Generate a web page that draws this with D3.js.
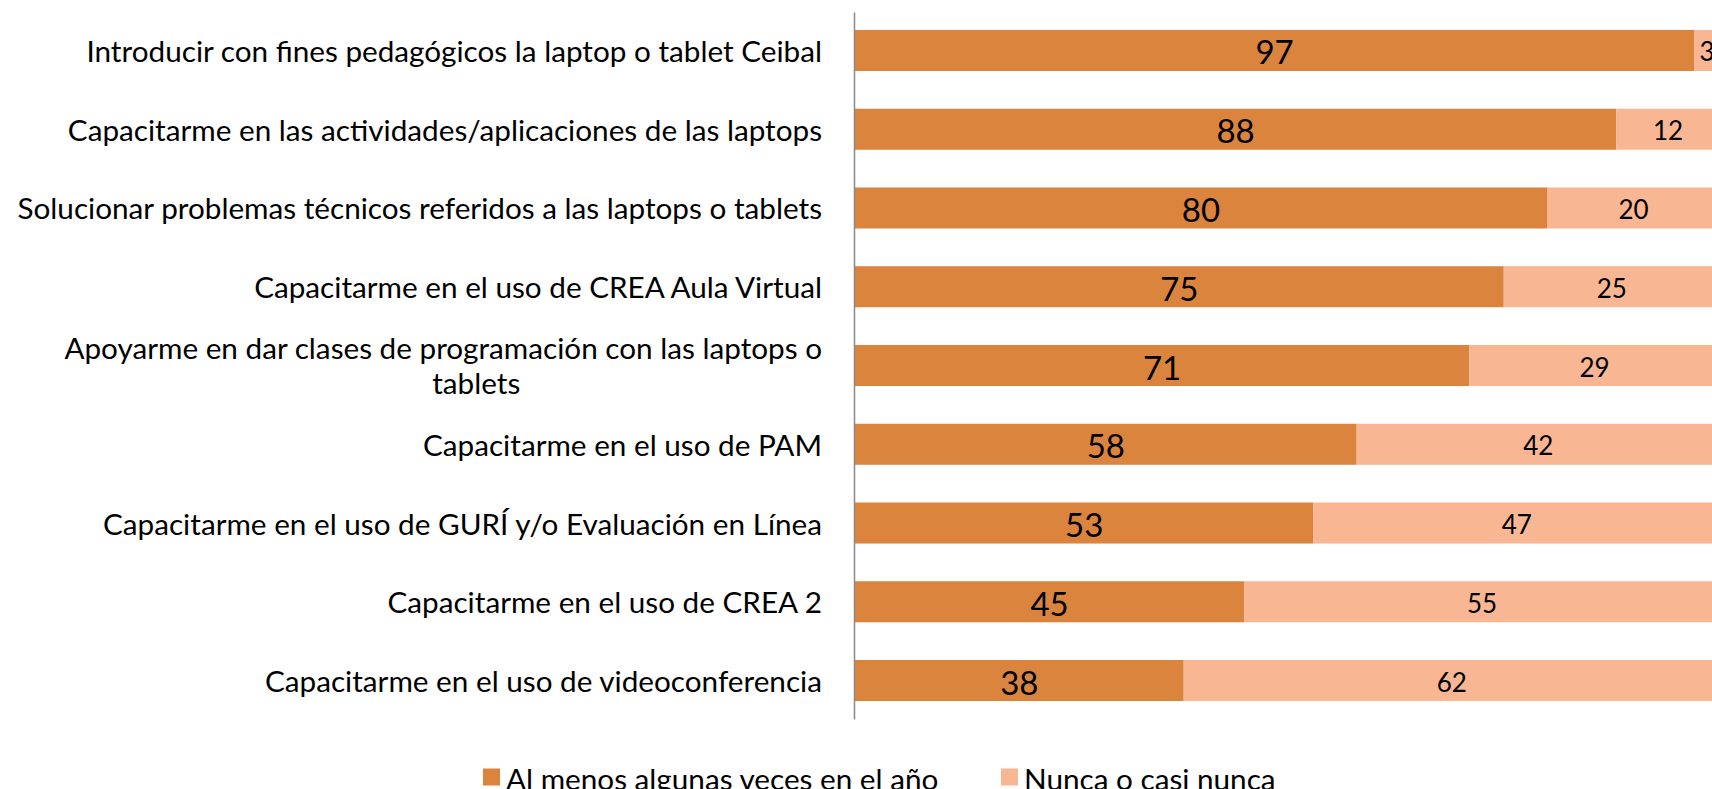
<!DOCTYPE html>
<html>
<head>
<meta charset="utf-8">
<script src="https://cdn.jsdelivr.net/npm/d3@7"></script>
<style>
  html, body { margin: 0; padding: 0; background: #fff; }
  svg { display: block; }
  text { font-family: "Lato", sans-serif; fill: #000; }
</style>
</head>
<body>
<svg id="chart" width="1712" height="789"></svg>
<script>
const categories = [
  ["Introducir con fines pedagógicos la laptop o tablet Ceibal"],
  ["Capacitarme en las actividades/aplicaciones de las laptops"],
  ["Solucionar problemas técnicos referidos a las laptops o tablets"],
  ["Capacitarme en el uso de CREA Aula Virtual"],
  ["Apoyarme en dar clases de programación con las laptops o", "tablets"],
  ["Capacitarme en el uso de PAM"],
  ["Capacitarme en el uso de GURÍ y/o Evaluación en Línea"],
  ["Capacitarme en el uso de CREA 2"],
  ["Capacitarme en el uso de videoconferencia"]
];
const alMenos = [97, 88, 80, 75, 71, 58, 53, 45, 38];
const nunca   = [3, 12, 20, 25, 29, 42, 47, 55, 62];
const seriesNames = ["Al menos algunas veces en el año", "Nunca o casi nunca"];
const colors = ["#DB843D", "#F8B692"];

const svg = d3.select("#chart");
const keys = categories.map((c, i) => "c" + i);

const x = d3.scaleLinear().domain([0, 100]).range([855, 1720]);
const y = d3.scaleBand().domain(keys).range([12, 719]).paddingInner(0.479).paddingOuter(0.228);

const rows = keys.map((k, i) => ({ key: k, label: categories[i], v: [alMenos[i], nunca[i]] }));

// bars
rows.forEach(r => {
  let acc = 0;
  r.v.forEach((val, s) => {
    svg.append("rect")
      .attr("x", x(acc))
      .attr("y", y(r.key))
      .attr("width", x(acc + val) - x(acc))
      .attr("height", y.bandwidth())
      .attr("fill", colors[s]);
    svg.append("text")
      .attr("x", x(acc + val / 2))
      .attr("y", y(r.key) + y.bandwidth() / 2 + 1)
      .attr("text-anchor", "middle")
      .attr("dominant-baseline", "central")
      .attr("font-size", s === 0 ? 33 : 26)
      .text(val);
    acc += val;
  });
});

// axis line
const axis = svg.append("g").attr("transform", "translate(854,0)")
  .call(d3.axisLeft(y).tickSize(0).tickFormat(""));
axis.select(".domain").attr("stroke", "#898989").attr("stroke-width", 1.5);

// category labels
const labelRight = 822;
const fs = 29.7;
rows.forEach(r => {
  const cy = y(r.key) + y.bandwidth() / 2;
  if (r.label.length === 1) {
    svg.append("text")
      .attr("x", labelRight).attr("y", cy)
      .attr("text-anchor", "end").attr("dominant-baseline", "central")
      .attr("font-size", fs).text(r.label[0]);
  } else {
    const t1 = svg.append("text")
      .attr("x", labelRight).attr("y", cy - 18.5)
      .attr("text-anchor", "end").attr("dominant-baseline", "central")
      .attr("font-size", fs).text(r.label[0]);
    const w1 = t1.node().getComputedTextLength();
    svg.append("text")
      .attr("x", labelRight - w1 / 2 + 33).attr("y", cy + 16.5)
      .attr("text-anchor", "middle").attr("dominant-baseline", "central")
      .attr("font-size", fs).text(r.label[1]);
  }
});

// legend
const legendX = [483, 1001];
seriesNames.forEach((n, i) => {
  svg.append("rect").attr("x", legendX[i]).attr("y", 768.5)
    .attr("width", 17).attr("height", 17).attr("fill", colors[i]);
  svg.append("text").attr("x", legendX[i] + 23).attr("y", 778)
    .attr("dominant-baseline", "central").attr("font-size", fs).text(n);
});
</script>
</body>
</html>
